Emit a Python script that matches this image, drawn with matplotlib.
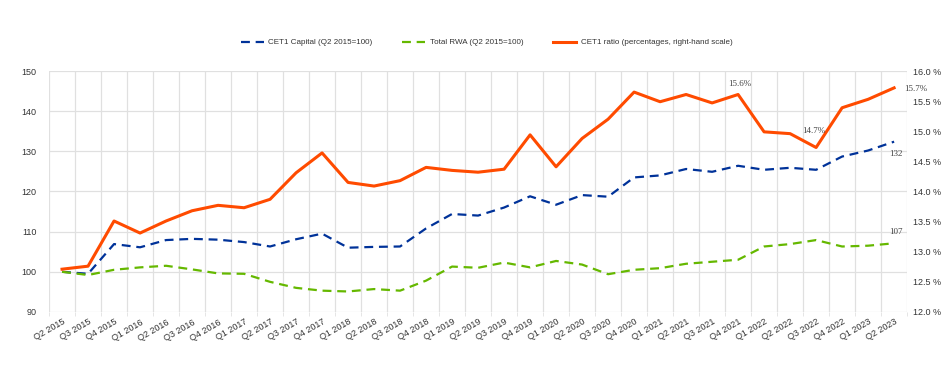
#!/usr/bin/env python3
"""
CET1 capital, total RWA and CET1 ratio, Q2 2015 - Q2 2023.
"""

import matplotlib
matplotlib.use("Agg")
import matplotlib.pyplot as plt
from matplotlib.ticker import FuncFormatter, MultipleLocator

plt.rcParams["font.family"] = ["Liberation Sans", "DejaVu Sans"]

quarters = (
    ["Q2 2015", "Q3 2015", "Q4 2015"]
    + [f"Q{q} {y}" for y in range(2016, 2023) for q in range(1, 5)]
    + ["Q1 2023", "Q2 2023"]
)

cet1_capital = [
    100.0, 99.5, 106.9, 106.1, 107.9, 108.2, 108.0, 107.4, 106.3, 108.1,
    109.5, 106.0, 106.2, 106.3, 110.8, 114.4, 114.0, 116.0, 118.8, 116.7,
    119.1, 118.7, 123.5, 124.0, 125.6, 124.9, 126.4, 125.4, 125.9, 125.4,
    128.7, 130.2, 132.4,
]
total_rwa = [
    100.0, 99.2, 100.5, 101.1, 101.5, 100.6, 99.6, 99.5, 97.5, 96.0,
    95.3, 95.1, 95.7, 95.3, 97.8, 101.3, 101.0, 102.3, 101.1, 102.7,
    101.8, 99.4, 100.5, 100.9, 102.0, 102.5, 103.0, 106.3, 106.9, 107.9,
    106.3, 106.5, 107.1,
]
cet1_ratio = [
    12.71, 12.76, 13.51, 13.31, 13.51, 13.68, 13.77, 13.73, 13.87, 14.31,
    14.64, 14.15, 14.09, 14.18, 14.40, 14.35, 14.32, 14.37, 14.94, 14.41,
    14.88, 15.20, 15.65, 15.49, 15.61, 15.47, 15.61, 14.99, 14.96, 14.73,
    15.39, 15.53, 15.72,
]

BLUE = "#003299"
GREEN = "#65b800"
ORANGE = "#ff4b00"
GRID = "#e0e0e0"
TXT = "#333333"

fig = plt.figure(figsize=(9.45, 3.88), dpi=100)
ax = fig.add_axes([0.0519, 0.196, 0.908, 0.621])
ax2 = ax.twinx()

x = list(range(len(quarters)))

l1, = ax.plot(x, cet1_capital, color=BLUE, lw=1.6, dashes=(4, 2.6),
              label="CET1 Capital (Q2 2015=100)")
l2, = ax.plot(x, total_rwa, color=GREEN, lw=1.6, dashes=(4, 2.6),
              label="Total RWA (Q2 2015=100)")
l3, = ax2.plot(x, cet1_ratio, color=ORANGE, lw=2.2,
               label="CET1 ratio (percentages, right-hand scale)")

ax.set_xlim(-0.5, len(quarters) - 0.5)
ax.set_ylim(90, 150)
ax2.set_ylim(12.0, 16.0)
ax.yaxis.set_major_locator(MultipleLocator(10))
ax2.yaxis.set_major_locator(MultipleLocator(0.5))
ax2.yaxis.set_major_formatter(FuncFormatter(lambda v, p: f"{v:.1f} %"))

ax.set_xticks(x)
ax.set_xticklabels(quarters, rotation=30, ha="right", rotation_mode="anchor",
                   fontsize=6.5, color=TXT)
ax.set_xticks([i - 0.5 for i in range(len(quarters) + 1)], minor=True)
ax.tick_params(axis="x", which="major", length=0, pad=4)
ax.tick_params(axis="x", which="minor", length=3, color=GRID)
ax.tick_params(axis="y", length=0, labelsize=6.5, labelcolor=TXT, pad=9)
ax2.tick_params(axis="y", length=0, labelsize=6.5, labelcolor=TXT, pad=4)

ax.grid(True, which="minor", axis="x", color=GRID, lw=0.9)
ax.grid(True, which="major", axis="y", color=GRID, lw=0.9)
ax.set_axisbelow(True)
for a in (ax, ax2):
    for s in a.spines.values():
        s.set_visible(False)

# data labels (serif, like the original)
lab = dict(fontsize=6.5, color="#444444", family="Liberation Serif")
ax2.annotate(f"{cet1_ratio[26]:.1f}%", (26, cet1_ratio[26]), xytext=(1, 5),
             textcoords="offset points", ha="center", va="bottom", **lab)
ax2.annotate(f"{cet1_ratio[29]:.1f}%", (29, cet1_ratio[29]), xytext=(-2, 9),
             textcoords="offset points", ha="center", va="bottom", **lab)
ax2.annotate(f"{cet1_ratio[32]:.1f}%", (32, cet1_ratio[32]), xytext=(7, -1),
             textcoords="offset points", ha="left", va="center", **lab)
ax.annotate(f"{cet1_capital[32]:.0f}", (32, cet1_capital[32]), xytext=(1, -6),
            textcoords="offset points", ha="center", va="top", **lab)
ax.annotate(f"{total_rwa[32]:.0f}", (32, total_rwa[32]), xytext=(1, 5),
            textcoords="offset points", ha="center", va="bottom", **lab)

fig.legend(handles=[l1, l2, l3], loc="center", bbox_to_anchor=(0.515, 0.89),
           ncol=3, frameon=False, fontsize=5.8, handlelength=2.8,
           columnspacing=3.7, handletextpad=0.6, labelcolor=TXT)

fig.savefig("out.png", dpi=100)
